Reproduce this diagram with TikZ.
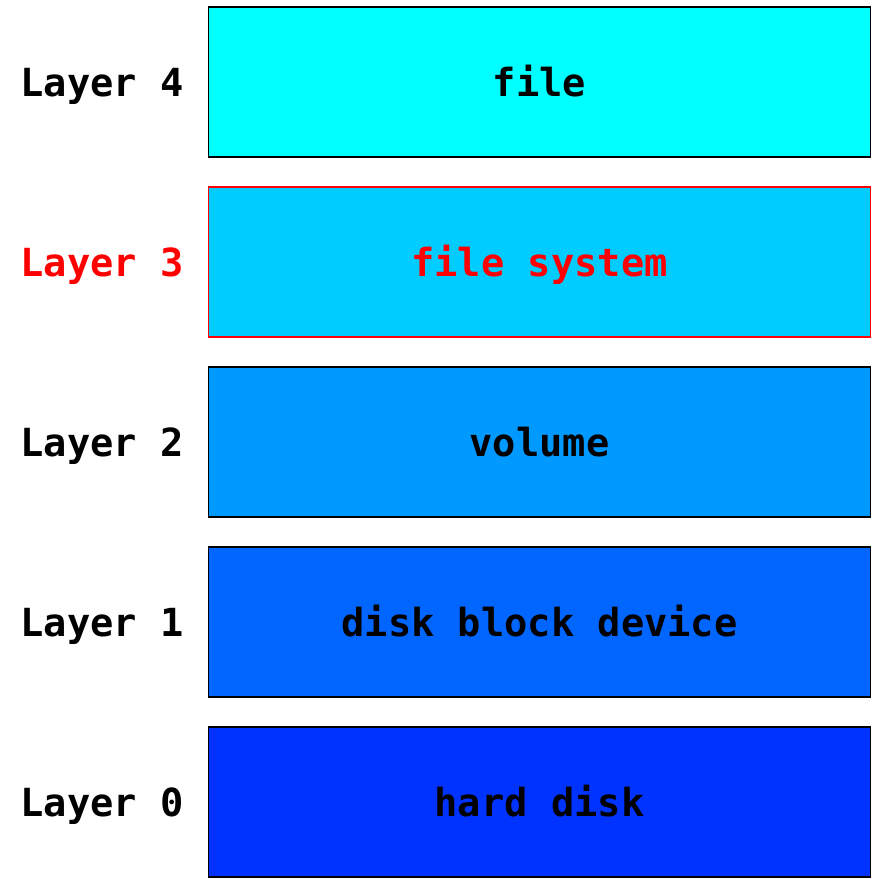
\documentclass[tikz,border=0pt]{standalone}
\usepackage{fontspec}
\newfontfamily\monobf{DejaVu Sans Mono Bold}
\definecolor{cfile}{RGB}{0,255,255}
\definecolor{cfsys}{RGB}{0,204,255}
\definecolor{cvol}{RGB}{0,153,255}
\definecolor{cblock}{RGB}{0,102,255}
\definecolor{cdisk}{RGB}{0,51,255}
\begin{document}
\begin{tikzpicture}[x=1pt,y=-1pt,font=\monobf\fontsize{38.7}{44}\selectfont]
	\tikzset{layerbox/.style={draw=black,line width=1.3pt,minimum width=662pt,minimum height=150pt,
			inner sep=0pt,text height=33pt,text depth=4pt},
		layername/.style={anchor=west,inner sep=0pt,text height=33pt,text depth=4pt}
	}
	\useasboundingbox (0,0) rectangle (875,879);
	\node[layerbox,fill=cfile] (file) at (539.5,82) {file};
	\node[layerbox,fill=cfsys,draw=red,text=red] (fsys) at (539.5,262) {file system};
	\node[layerbox,fill=cvol] (vol) at (539.5,442) {volume};
	\node[layerbox,fill=cblock] (block) at (539.5,622) {disk block device};
	\node[layerbox,fill=cdisk] (disk) at (539.5,802) {hard disk};
	\node[layername] (lfour) at (20.5,82) {Layer 4};
	\node[layername,text=red] (lthree) at (20.5,262) {Layer 3};
	\node[layername] (ltwo) at (20.5,442) {Layer 2};
	\node[layername] (lone) at (20.5,622) {Layer 1};
	\node[layername] (lzero) at (20.5,802) {Layer 0};
\end{tikzpicture}
\end{document}
